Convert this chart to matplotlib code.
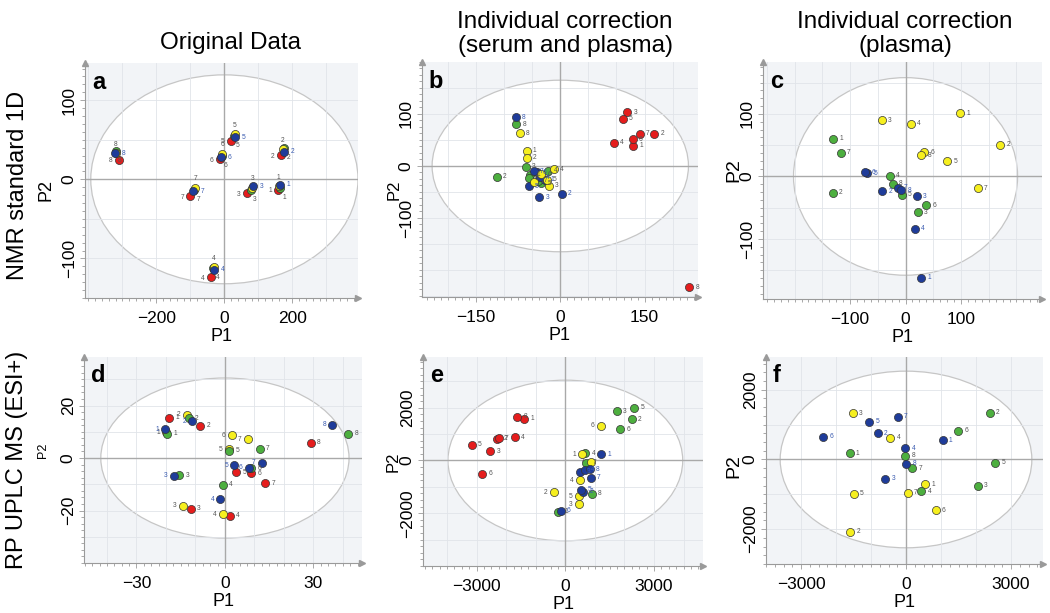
import matplotlib
matplotlib.use('Agg')
import matplotlib.pyplot as plt
from matplotlib.patches import Ellipse
from matplotlib.ticker import MultipleLocator
import numpy as np

plt.rcParams['font.family'] = ['Liberation Sans', 'DejaVu Sans']

# ---------------- data ----------------
labels8 = ['1', '2', '3', '4', '5', '6', '7', '8']
labels7 = ['1', '2', '3', '4', '5', '6', '7']

# panel a : NMR, original data
a_red_x = [158, 166, 67, -39, 18, -14, -100, -310]
a_red_y = [-13, 31, -17, -123, 49, 26, -21, 25]
a_blue_x = [163, 174, 85, -31, 30, -10, -91, -321]
a_blue_y = [-7, 35, -9, -114, 53, 28, -15, 33]
a_green_x = [165, 176, 78, -33, 28, -8, -88, -320]
a_green_y = [-11, 40, -13, -112, 55, 30, -13, 36]
a_yellow_x = [160, 172, 82, -31, 30, -6, -86, -320]
a_yellow_y = [-9, 38, -11, -111, 57, 32, -11, 33]

# panel b : NMR, correction serum and plasma
b_red_x = [130, 167, 119, 95, 111, 129, 141, 229]
b_red_y = [39, 62, 103, 45, 91, 51, 62, -233]
b_blue_x = [-28, 3, -37, -36, -56, -42, -47, -79]
b_blue_y = [-26, -53, -60, -22, -39, -12, -10, 94]
b_green_x = [-53, -113, -61, -22, -34, -56, -40, -78]
b_green_y = [-17, -21, -1, -9, -33, -24, -28, 80]
b_yellow_x = [-60, -60, -20, -11, -24, -34, -46, -72]
b_yellow_y = [29, 16, -38, -6, -26, -16, -30, 63]

# panel c : NMR, correction plasma
c_yellow_x = [99, 171, -43, 9, 75, 34, 130, 28]
c_yellow_y = [101, 51, 90, 84, 24, 39, -19, 34]
c_green_x = [-130, -131, 22, -28, -7, 37, -117, -23]
c_green_y = [60, -26, -57, 1, -29, -46, 38, -12]
c_blue_x = [28, -42, 20, 17, -69, -73, -14, -8]
c_blue_y = [-162, -24, -32, -84, 5, 7, -18, -22]

# panel d : MS, original data
d_red_x = [-19, -8.4, -11.6, 1.7, 3.9, 8.9, 13.7, 29.2]
d_red_y = [15.4, 12.3, -19.4, -21.9, -5.5, -5.8, -9.7, 5.8]
d_blue_x = [-20.3, -11.1, -17.4, -1.5, 3.2, 8.0, 12.6, 36.4]
d_blue_y = [11, 14.1, -6.8, -15.7, -2.7, -3.7, -1.8, 12.6]
d_green_x = [-19.6, -12.3, -15.5, -0.8, 1.4, 8.9, 11.8, 41.8]
d_green_y = [9.3, 15.2, -6.5, -10.2, 2.7, -3.9, 3.6, 9.2]
d_yellow_x = [-19.9, -13, -14.3, -0.6, 1.4, 2.4, 7.8]
d_yellow_y = [9.8, 16.5, -18.1, -21.5, 3.4, 8.6, 7.1]

# panel e : MS, correction serum and plasma
e_red_x = [-1398, -2311, -2537, -1702, -3168, -2807, -2255, -1623]
e_red_y = [1590, 833, 346, 885, 603, -500, 850, 1667]
e_green_x = [-248, 2243, 1736, 676, 2322, 1860, 710, 900]
e_green_y = [-1949, 1564, 1872, 269, 2000, 1192, -88, -1269]
e_yellow_x = [575, -383, 462, 507, 450, 1195, 856]
e_yellow_y = [242, -1205, -1654, -757, -1359, 1320, -50]
e_blue_x = [1217, 600, 507, 653, 541, -158, 856, 822]
e_blue_y = [242, -1180, -435, -346, -1115, -1910, -654, -335]

# panel f : MS, correction plasma
f_yellow_x = [552, -1590, -1514, -448, -1495, 848, 48]
f_yellow_y = [-718, -2078, 1320, 621, -990, -1456, -961]
f_blue_x = [1048, -810, -590, -19, -1048, -2371, -238, 10]
f_blue_y = [553, 757, -553, 320, 1087, 650, 1223, -126]
f_green_x = [-1610, 2390, 2057, 438, 2543, 1495, 171, -19]
f_green_y = [184, 1340, -748, -913, -87, 825, -252, 107]

# tick labels
a_xticks = [-200, 0, 200]; a_yticks = [-100, 0, 100]
b_xticks = [-150, 0, 150]; b_yticks = [-100, 0, 100]
c_xticks = [-100, 0, 100]; c_yticks = [-100, 0, 100]
d_xticks = [-30, 0, 30]; d_yticks = [-20, 0, 20]
e_xticks = [-3000, 0, 3000]; e_yticks = [-2000, 0, 2000]
f_xticks = [-3000, 0, 3000]; f_yticks = [-2000, 0, 2000]

RED = '#e51d1d'
BLUE = '#1f3c9a'
GREEN = '#4daf3f'
YELLOW = '#f6ef1f'
LBL_GRAY = '#555555'
LBL_BLUE = '#3a5bb0'

W, H = 1050, 613
fig = plt.figure(figsize=(W / 100, H / 100), dpi=100)


def axes_px(l, t, r, b):
    return fig.add_axes([l / W, 1 - b / H, (r - l) / W, (b - t) / H])


def setup(ax, xlim, ylim, ell, xt, yt, xgrid, ygrid, xminor, yminor, letter):
    ax.set_xlim(*xlim)
    ax.set_ylim(*ylim)
    ax.set_facecolor('#f2f4f7')
    ax.add_patch(Ellipse((0, 0), 2 * ell[0], 2 * ell[1], facecolor='white',
                         edgecolor='#c6c6c6', lw=0.9, zorder=1))
    for v in np.arange(-20, 21) * xgrid:
        if xlim[0] < v < xlim[1] and v != 0:
            ax.axvline(v, color='#e1e4e9', lw=0.6, zorder=1.5)
    for v in np.arange(-20, 21) * ygrid:
        if ylim[0] < v < ylim[1] and v != 0:
            ax.axhline(v, color='#e1e4e9', lw=0.6, zorder=1.5)
    ax.axhline(0, color='#a9a9a9', lw=1.0, zorder=2)
    ax.axvline(0, color='#a9a9a9', lw=1.0, zorder=2)
    ax.set_xticks(xt)
    ax.set_yticks(yt)
    ax.xaxis.set_minor_locator(MultipleLocator(xminor))
    ax.yaxis.set_minor_locator(MultipleLocator(yminor))
    ax.tick_params(which='both', direction='out', color='#9a9a9a', width=0.6)
    ax.tick_params(which='major', length=3.5, labelsize=12.5)
    ax.tick_params(which='minor', length=2)
    ax.tick_params(axis='x', pad=6)
    ax.tick_params(axis='y', pad=2.5, labelrotation=90)
    for lb in ax.get_yticklabels():
        lb.set_va('center')
    for s in ['top', 'right']:
        ax.spines[s].set_visible(False)
    for s in ['left', 'bottom']:
        ax.spines[s].set_color('#9a9a9a')
        ax.spines[s].set_linewidth(0.8)
    ax.plot([0], [1], marker='^', ms=4, color='#9a9a9a', transform=ax.transAxes, clip_on=False)
    ax.plot([1], [0], marker='>', ms=4, color='#9a9a9a', transform=ax.transAxes, clip_on=False)
    ax.text(0.025, 0.965, letter, transform=ax.transAxes, fontsize=17,
            fontweight='bold', va='top', ha='left', zorder=6)
    ax.set_xlabel('P1', fontsize=13, labelpad=1)


def pts(ax, xs, ys, labs, color, lcolor, off=(4.5, 0), ha='left'):
    ax.scatter(xs, ys, s=34, c=color, edgecolors='#333333', linewidths=0.5, zorder=4)
    for x, y, t in zip(xs, ys, labs):
        ax.annotate(t, (x, y), xytext=off, textcoords='offset points',
                    fontsize=4.8, color=lcolor, va='center', ha=ha, zorder=5)


# panel a
ax = axes_px(85, 63, 358, 298)
setup(ax, (-410, 393), (-150, 147), (393, 132), a_xticks, a_yticks, 100, 50, 20, 10, 'a')
pts(ax, a_red_x, a_red_y, labels8, RED, LBL_GRAY, off=(-4.5, -1), ha='right')
pts(ax, a_green_x, a_green_y, labels8, GREEN, LBL_GRAY, off=(3, -7), ha='center')
pts(ax, a_yellow_x, a_yellow_y, labels8, YELLOW, LBL_GRAY, off=(0, 6.5), ha='center')
pts(ax, a_blue_x, a_blue_y, labels8, BLUE, LBL_BLUE, off=(5, 0), ha='left')

# panel b
ax = axes_px(422, 62, 698, 297)
setup(ax, (-246, 245), (-252, 200), (228, 165), b_xticks, b_yticks, 50, 50, 12.5, 12.5, 'b')
pts(ax, b_red_x, b_red_y, labels8, RED, LBL_GRAY)
pts(ax, b_green_x, b_green_y, labels8, GREEN, LBL_GRAY)
pts(ax, b_blue_x, b_blue_y, labels8, BLUE, LBL_BLUE)
pts(ax, b_yellow_x, b_yellow_y, labels8, YELLOW, LBL_GRAY)

# panel c
ax = axes_px(763, 62, 1042, 299)
setup(ax, (-257, 246), (-196, 183), (202, 158), c_xticks, c_yticks, 50, 50, 12.5, 12.5, 'c')
pts(ax, c_yellow_x, c_yellow_y, labels8, YELLOW, LBL_GRAY)
pts(ax, c_green_x, c_green_y, labels8, GREEN, LBL_GRAY)
pts(ax, c_blue_x, c_blue_y, labels8, BLUE, LBL_BLUE)

# panel d
ax = axes_px(84, 357, 362, 563)
setup(ax, (-47.8, 46.5), (-40, 38.5), (42.1, 30.5), d_xticks, d_yticks, 10, 10, 2.5, 2.5, 'd')
pts(ax, d_red_x, d_red_y, labels8, RED, LBL_GRAY)
pts(ax, d_yellow_x, d_yellow_y, labels7, YELLOW, LBL_GRAY, off=(-4.5, 0), ha='right')
pts(ax, d_green_x, d_green_y, labels8, GREEN, LBL_GRAY)
pts(ax, d_blue_x, d_blue_y, labels8, BLUE, LBL_BLUE, off=(-4.5, 0), ha='right')

# panel e
ax = axes_px(423, 357, 703, 566)
setup(ax, (-4814, 4656), (-4000, 3923), (3970, 3045), e_xticks, e_yticks, 1000, 1000, 250, 250, 'e')
pts(ax, e_red_x, e_red_y, labels8, RED, LBL_GRAY)
pts(ax, e_green_x, e_green_y, labels8, GREEN, LBL_GRAY)
pts(ax, e_yellow_x, e_yellow_y, labels7, YELLOW, LBL_GRAY, off=(-4.5, 0), ha='right')
pts(ax, e_blue_x, e_blue_y, labels8, BLUE, LBL_BLUE)

# panel f
ax = axes_px(766, 357, 1043, 564)
setup(ax, (-4000, 3914), (-3000, 2941), (3595, 2535), f_xticks, f_yticks, 1000, 1000, 250, 250, 'f')
pts(ax, f_yellow_x, f_yellow_y, labels7, YELLOW, LBL_GRAY)
pts(ax, f_green_x, f_green_y, labels8, GREEN, LBL_GRAY)
pts(ax, f_blue_x, f_blue_y, labels8, BLUE, LBL_BLUE)


def ftext(x, y, s, **kw):
    fig.text(x / W, 1 - y / H, s, ha='center', va='center', **kw)


# column titles
ftext(230, 43, 'Original Data', fontsize=17.5)
ftext(565, 22, 'Individual correction', fontsize=17.5)
ftext(565, 46, '(serum and plasma)', fontsize=17.5)
ftext(905, 22, 'Individual correction', fontsize=17.5)
ftext(905, 46, '(plasma)', fontsize=17.5)

# row titles
ftext(18, 185, 'NMR standard 1D', fontsize=17, rotation=90)
ftext(17, 460, 'RP UPLC MS (ESI+)', fontsize=17, rotation=90)

# P2 axis labels
ftext(46, 190, 'P2', fontsize=13, rotation=90)
ftext(394, 190, 'P2', fontsize=12, rotation=90)
ftext(734, 170, 'P2', fontsize=14, rotation=90)
ftext(43, 450, 'P2', fontsize=9, rotation=90)
ftext(393, 462, 'P2', fontsize=12, rotation=90)
ftext(734, 466, 'P2', fontsize=14, rotation=90)

fig.savefig('out.png', dpi=100)
